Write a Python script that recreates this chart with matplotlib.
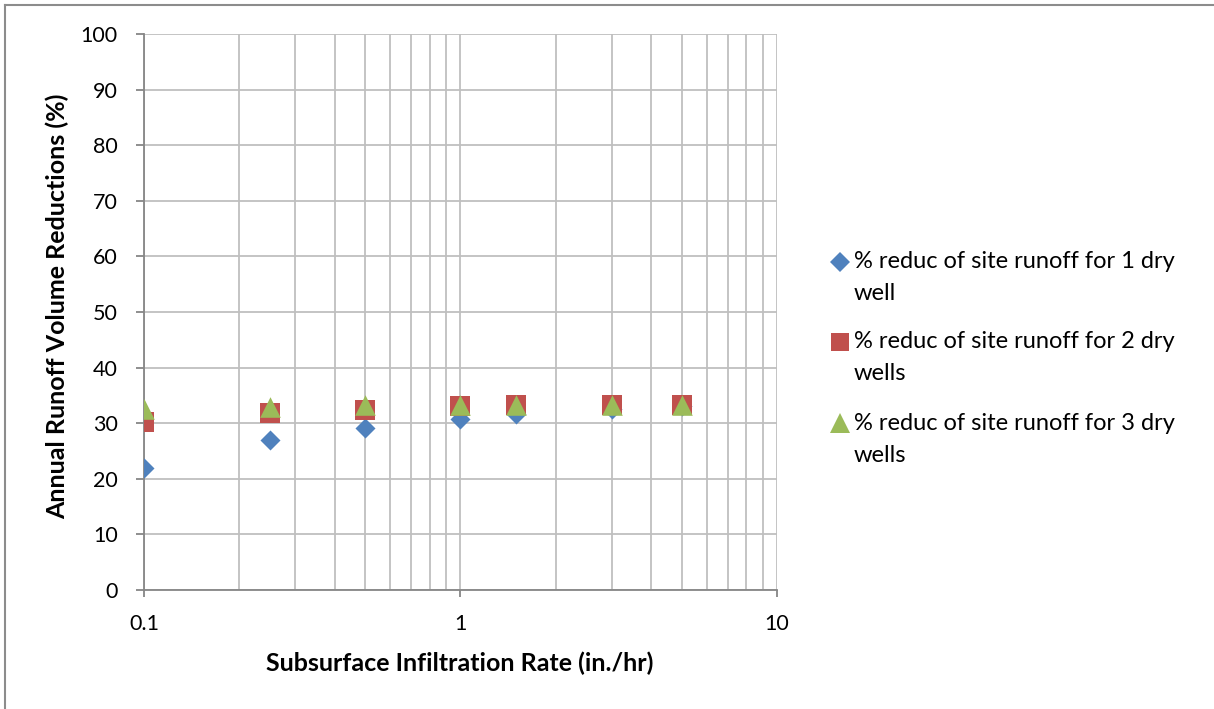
import matplotlib
matplotlib.use("Agg")
import matplotlib.pyplot as plt
from matplotlib.ticker import LogLocator, FixedLocator, NullFormatter, FuncFormatter
from matplotlib.lines import Line2D

plt.rcParams['font.family'] = ['Lato', 'DejaVu Sans']

# Data
rates = [0.1, 0.25, 0.5, 1, 1.5, 3, 5]
reduc_1_well = [22.0, 27.0, 29.1, 30.8, 31.7, 32.6, 33.1]
reduc_2_wells = [30.3, 31.9, 32.4, 33.1, 33.3, 33.3, 33.3]
reduc_3_wells = [32.5, 33.0, 33.2, 33.2, 33.3, 33.3, 33.3]
series_labels = [["% reduc of site runoff for 1 dry", "well"],
                 ["% reduc of site runoff for 2 dry", "wells"],
                 ["% reduc of site runoff for 3 dry", "wells"]]
x_label = "Subsurface Infiltration Rate (in./hr)"
y_label = "Annual Runoff Volume Reductions (%)"

W, H = 1214, 709
fig = plt.figure(figsize=(W / 100, H / 100), dpi=100)
ax = fig.add_axes([144 / W, 1 - 590 / H, (777 - 144) / W, (590 - 34) / H])

axis_col = "#868686"
grid_col = "#BFBFBF"
c1, c2, c3 = "#4F81BD", "#C0504D", "#9BBB59"

ax.scatter(rates, reduc_1_well, marker="D", s=104, color=c1, zorder=3, linewidths=0)
ax.scatter(rates, reduc_2_wells, marker="s", s=205, color=c2, zorder=4, linewidths=0)
ax.scatter(rates, reduc_3_wells, marker="^", s=220, color=c3, zorder=5, linewidths=0)

ax.set_xscale("log")
ax.set_xlim(0.1, 10)
ax.set_ylim(0, 100)
ax.yaxis.set_major_locator(FixedLocator(range(0, 101, 10)))
ax.xaxis.set_major_locator(FixedLocator([0.1, 1, 10]))
ax.xaxis.set_major_formatter(FuncFormatter(lambda v, p: {0.1: "0.1", 1: "1", 10: "10"}.get(round(v, 3), "")))
ax.xaxis.set_minor_locator(LogLocator(base=10, subs=range(2, 10)))
ax.xaxis.set_minor_formatter(NullFormatter())

ax.grid(True, which="major", axis="both", color=grid_col, linewidth=1.3, zorder=0)
ax.grid(True, which="minor", axis="x", color=grid_col, linewidth=1.3, zorder=0)
ax.set_axisbelow(True)

for side in ["top", "right"]:
    ax.spines[side].set_visible(False)
for side in ["left", "bottom"]:
    ax.spines[side].set_color(axis_col)
    ax.spines[side].set_linewidth(1.3)

ax.tick_params(axis="y", which="major", color=axis_col, width=1.3, length=6,
               labelsize=15.5, pad=13, labelcolor="black")
ax.tick_params(axis="x", which="major", color=axis_col, width=1.3, length=5,
               labelsize=15.5, pad=12, labelcolor="black")
ax.tick_params(axis="x", which="minor", length=0)

ax.set_xlabel(x_label, fontsize=18, fontweight="bold", va="center")
ax.set_ylabel(y_label, fontsize=18, fontweight="bold", va="center")
ax.xaxis.set_label_coords((460 - 144) / (777 - 144), (590 - 663) / (590 - 34))
ax.yaxis.set_label_coords((57 - 144) / (777 - 144), (590 - 306) / (590 - 34))

# Legend (marker aligned with first text line, as in the original)
leg_markers = [("D", 10.0, c1), ("s", 13.0, c2), ("^", 14.0, c3)]
first_line_y = [262, 342, 423]
line_gap = 32
for (mk, ms, col), lines, y0 in zip(leg_markers, series_labels, first_line_y):
    fig.add_artist(Line2D([840 / W], [1 - y0 / H], transform=fig.transFigure, marker=mk,
                          markersize=ms, color=col, markeredgewidth=0, linestyle="none"))
    for i, line in enumerate(lines):
        fig.text(854 / W, 1 - (y0 + i * line_gap) / H, line, fontsize=17, ha="left", va="center")

# outer chart border (top and left visible)
fig.add_artist(Line2D([5 / W, 5 / W], [0, 1 - 5 / H], transform=fig.transFigure, color="#8C8C8C", linewidth=1.5))
fig.add_artist(Line2D([5 / W, 1], [1 - 5 / H, 1 - 5 / H], transform=fig.transFigure, color="#8C8C8C", linewidth=1.5))

fig.savefig("out.png", dpi=100)
